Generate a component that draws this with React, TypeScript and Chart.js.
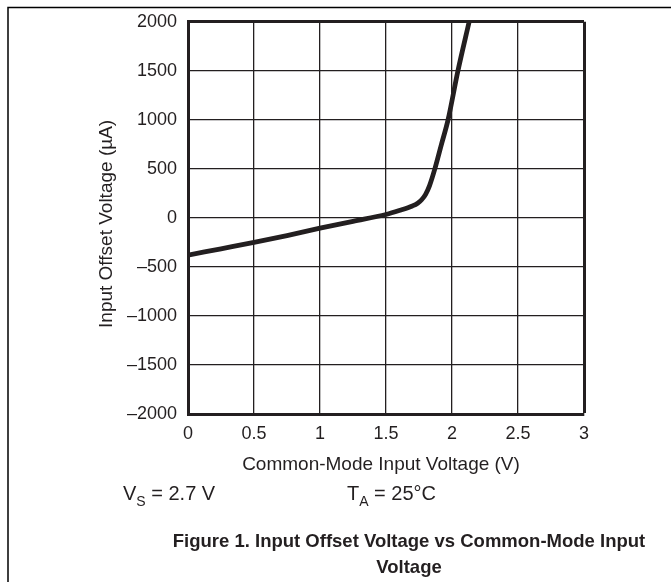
import React, { useEffect, useRef } from "react";
import { Chart, registerables } from "chart.js";

Chart.register(...registerables);

const xValues = [0, 0.25, 0.5, 0.75, 1.0, 1.25, 1.5, 1.6, 1.7, 1.74, 1.77, 1.8, 1.83, 1.87, 1.92, 1.97, 2.045, 2.13];
const yValues = [-380, -315, -250, -180, -105, -35, 35, 75, 122, 150, 185, 240, 330, 500, 750, 1000, 1500, 2000];

const xTicks = [0, 0.5, 1, 1.5, 2, 2.5, 3];
const yTicks = [-2000, -1500, -1000, -500, 0, 500, 1000, 1500, 2000];

const xTitle = "Common-Mode Input Voltage (V)";
const yTitle = "Input Offset Voltage (\u00b5A)";
const captionLines = ["Figure 1. Input Offset Voltage vs Common-Mode Input", "Voltage"];

const FONT = "'Liberation Sans', Arial, Helvetica, sans-serif";
const INK = "#231f20";

const decorPlugin = {
  id: "decor",
  afterDraw(chart: any) {
    const ctx = chart.ctx as CanvasRenderingContext2D;
    const area = chart.chartArea;
    ctx.save();
    // page frame
    ctx.strokeStyle = "#000";
    ctx.lineWidth = 1.5;
    ctx.beginPath();
    ctx.moveTo(671, 7.5);
    ctx.lineTo(8, 7.5);
    ctx.lineTo(8, 582);
    ctx.stroke();

    ctx.fillStyle = INK;
    // x title
    ctx.font = `19px ${FONT}`;
    ctx.textAlign = "center";
    ctx.textBaseline = "middle";
    ctx.fillText(xTitle, (area.left + area.right) / 2 - 5, 465);
    // y title
    ctx.save();
    ctx.translate(107, (area.top + area.bottom) / 2 + 6);
    ctx.rotate(-Math.PI / 2);
    ctx.fillText(yTitle, 0, 0);
    ctx.restore();

    // conditions
    ctx.textAlign = "left";
    ctx.textBaseline = "alphabetic";
    const drawSub = (x: number, main: string, sub: string, rest: string) => {
      ctx.font = `20px ${FONT}`;
      ctx.fillText(main, x, 500);
      let cx = x + ctx.measureText(main).width;
      ctx.font = `14px ${FONT}`;
      ctx.fillText(sub, cx, 506);
      cx += ctx.measureText(sub).width;
      ctx.font = `20px ${FONT}`;
      ctx.fillText(rest, cx, 500);
    };
    drawSub(123, "V", "S", " = 2.7 V");
    drawSub(347, "T", "A", " = 25\u00b0C");

    // caption
    ctx.font = `bold 18.5px ${FONT}`;
    ctx.textAlign = "center";
    ctx.fillText(captionLines[0], 409, 547);
    ctx.fillText(captionLines[1], 409, 573);
    ctx.restore();
  },
};

export default function App() {
  const ref = useRef<HTMLCanvasElement | null>(null);
  useEffect(() => {
    if (!ref.current) return;
    const points = xValues.map((x, i) => ({ x, y: yValues[i] }));
    const chart = new Chart(ref.current, {
      type: "line",
      data: {
        datasets: [
          {
            data: points,
            borderColor: INK,
            borderWidth: 4.8,
            pointRadius: 0,
            cubicInterpolationMode: "monotone",
            fill: false,
          },
        ],
      },
      options: {
        responsive: false,
        animation: false,
        devicePixelRatio: 1,
        layout: { padding: { left: 0, top: 19, right: 87, bottom: 0 } },
        plugins: {
          legend: { display: false },
          tooltip: { enabled: false },
          title: { display: false },
        },
        scales: {
          x: {
            type: "linear",
            min: 0,
            max: 3,
            afterFit: (s: any) => {
              s.height = 168;
            },
            afterBuildTicks: (s: any) => {
              s.ticks = xTicks.map((v) => ({ value: v }));
            },
            ticks: {
              color: INK,
              font: { family: FONT, size: 18 },
              padding: 9,
              maxRotation: 0,
              autoSkip: false,
              callback: (v: any) => String(v),
            },
            grid: {
              color: INK,
              lineWidth: (c: any) => (c.tick && c.tick.value === 3 ? 3 : 1.3),
              drawTicks: false,
            },
            border: { display: true, color: INK, width: 3 },
          },
          y: {
            type: "linear",
            min: -2000,
            max: 2000,
            afterFit: (s: any) => {
              s.width = 188;
            },
            afterBuildTicks: (s: any) => {
              s.ticks = yTicks.map((v) => ({ value: v }));
            },
            ticks: {
              color: INK,
              font: { family: FONT, size: 18 },
              padding: 11,
              autoSkip: false,
              callback: (v: any) => String(v).replace("-", "\u2013"),
            },
            grid: {
              color: INK,
              lineWidth: (c: any) => (c.tick && c.tick.value === 2000 ? 3 : 1.3),
              drawTicks: false,
            },
            border: { display: true, color: INK, width: 3 },
          },
        },
      },
      plugins: [decorPlugin],
    } as any);
    return () => chart.destroy();
  }, []);
  return (
    <div style={{ position: "fixed", left: 0, top: 0, width: 671, height: 582, background: "#fff" }}>
      <canvas ref={ref} width={671} height={582} style={{ display: "block" }} />
    </div>
  );
}
